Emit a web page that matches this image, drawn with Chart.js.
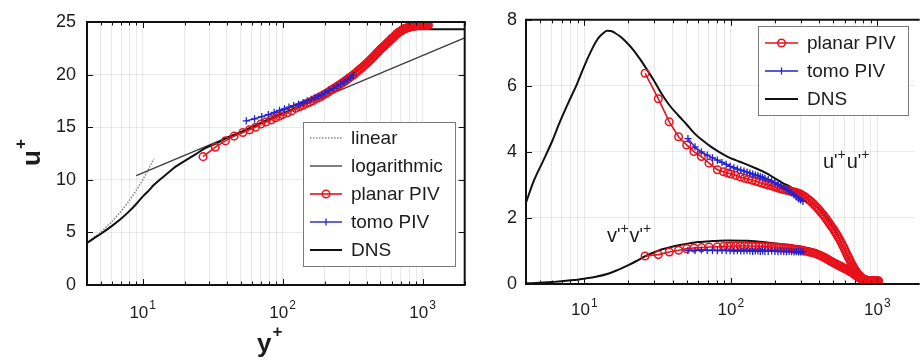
<!DOCTYPE html>
<html><head><meta charset="utf-8">
<script src="https://cdn.jsdelivr.net/npm/chart.js@4.4.0/dist/chart.umd.min.js"></script>
<style>
html,body{margin:0;padding:0;background:#fff;}
body{width:920px;height:361px;position:relative;overflow:hidden;}
#c1{position:absolute;left:0;top:0;width:470px;height:361px;}
#c2{position:absolute;left:470px;top:0;width:450px;height:361px;}
</style></head><body>
<canvas id="c1" width="470" height="361"></canvas>
<canvas id="c2" width="450" height="361"></canvas>
<script>
// ---------- tick data ----------
const xGridTicks = [4,5,6,7,8,9,10,20,30,40,50,60,70,80,90,100,200,300,400,500,600,700,800,900,1000,2000];
const xMajorTicks = [10,100,1000];
const xTickBase = ['10','10','10'];
const xTickExp = ['1','2','3'];

// ---------- left panel: mean velocity ----------
const linearY = [4,5,6,7,8,9,10,11,12];
const linearU = [4,5,6,7,8,9,10,11,12];
const logY = [9,2000];
const logU = [10.4,23.5];
const dnsMeanY = [4,4.5,5,6,7,8,9,10,11,12,13.5,15,17,20,24,28,34,40,50,60,75,100,125,150,175,200,250,300,350,400,450,500,550,600,650,700,750,800,850,2000];
const dnsMeanU = [4.0,4.45,4.85,5.6,6.3,7.0,7.7,8.4,8.95,9.5,10.1,10.6,11.2,11.8,12.45,13.0,13.5,14.0,14.5,15.0,15.6,16.3,16.85,17.3,17.75,18.2,19.0,19.8,20.5,21.2,21.8,22.4,22.9,23.4,23.75,24.0,24.15,24.25,24.3,24.3];
const planarMeanY = [27,33,39,45,52,58,64,70,76,83,89,95,
  100,108,116,124,132,140,148,156,164,172,180,188,196,204,212,220,228,236,244,252,260,268,276,284,292,300,
  310,320,330,340,350,360,370,380,390,400,410,420,430,440,450,460,470,480,490,500,
  510,520,530,540,550,560,570,580,590,600,610,620,630,640,650,660,670,680,690,700,
  710,720,730,740,750,760,770,780,790,800,810,820,830,840,850,860,870,880,890,900,
  910,920,930,940,950,960,970,980,990,1000,1010,1020,1030,1040,1050,1060,1070,1080,1090,1100];
const planarMeanU = [12.2,13.1,13.7,14.15,14.5,14.75,15.0,15.3,15.5,15.7,15.9,16.05,
  16.2,16.37,16.55,16.8,16.95,17.08,17.25,17.38,17.52,17.68,17.8,17.92,18.07,18.21,18.34,18.5,18.62,18.74,18.86,18.98,19.1,19.22,19.34,19.46,19.58,19.7,
  19.83,19.97,20.1,20.27,20.42,20.55,20.68,20.82,20.95,21.08,21.22,21.35,21.48,21.62,21.75,21.88,22.02,22.15,22.28,22.4,
  22.5,22.6,22.7,22.8,22.9,23.0,23.1,23.2,23.3,23.4,23.48,23.55,23.65,23.75,23.83,23.9,23.98,24.05,24.1,24.15,
  24.2,24.25,24.3,24.35,24.38,24.4,24.43,24.45,24.48,24.5,24.52,24.55,24.57,24.6,24.6,24.6,24.62,24.65,24.65,24.65,
  24.67,24.68,24.7,24.7,24.7,24.7,24.7,24.7,24.7,24.7,24.7,24.7,24.7,24.7,24.7,24.7,24.7,24.7,24.7,24.7];
const tomoMeanY = [55,63,71,79,87,95,103,111,120,130,140,150,160,170,180,190,200,215,230,245,260,275,290,305,320];
const tomoMeanU = [15.6,15.8,16.0,16.2,16.4,16.6,16.75,16.9,17.05,17.2,17.35,17.5,17.65,17.8,17.95,18.1,18.25,18.5,18.7,18.9,19.1,19.3,19.5,19.7,19.95];

// ---------- right panel: Reynolds stresses ----------
const dnsUUY = [4,4.5,5.2,6,6.8,7.8,8.8,10,11.4,12.5,13.5,14.3,15.2,16.2,17.5,19.1,21.5,24.1,26.7,30,33.7,38,43.7,50,56.5,64,73,83,94.6,108,122,145,176,200,228,255,282,330,382,440,495,550,609,650,690,740,790,850,900,1000];
const dnsUU = [2.46,3.1,3.7,4.3,4.9,5.5,6.0,6.6,7.15,7.45,7.6,7.67,7.66,7.6,7.5,7.35,7.1,6.8,6.5,6.15,5.76,5.42,5.11,4.83,4.56,4.35,4.16,4.0,3.86,3.75,3.66,3.52,3.35,3.2,3.05,2.94,2.82,2.6,2.35,2.08,1.75,1.38,0.95,0.7,0.5,0.3,0.17,0.08,0.05,0.02];
const dnsVVY = [4,5,6,7,8,9,10,12,14.7,17,20,23,26,30,34,39,45,52,60,75,95,130,176,230,282,330,382,440,495,550,609,650,690,740,790,850,900,1000];
const dnsVV = [0.02,0.04,0.06,0.08,0.11,0.13,0.16,0.22,0.32,0.43,0.57,0.71,0.84,0.96,1.05,1.12,1.18,1.23,1.27,1.3,1.32,1.31,1.26,1.2,1.14,1.08,1.0,0.87,0.72,0.6,0.47,0.39,0.32,0.22,0.14,0.08,0.05,0.02];
const planarStressY = [26,32,38,44,50,56,63,71,81,89,95,
  100,108,116,124,132,140,148,156,164,172,180,188,196,204,212,220,228,236,244,252,260,268,276,284,292,300,
  310,320,330,340,350,360,370,380,390,400,410,420,430,440,450,460,470,480,490,500,
  510,520,530,540,550,560,570,580,590,600,610,620,630,640,650,660,670,680,690,700,
  710,720,730,740,750,760,770,780,790,800,810,820,830,840,850,860,870,880,890,900,
  910,920,930,940,950,960,970,980,990,1000,1010,1020];
const planarUU = [6.38,5.61,4.91,4.46,4.21,4.01,3.86,3.66,3.46,3.4,3.36,
  3.33,3.29,3.24,3.2,3.17,3.14,3.11,3.08,3.05,3.02,3.0,2.98,2.95,2.93,2.9,2.88,2.86,2.85,2.83,2.82,2.8,2.79,2.78,2.76,2.74,2.72,
  2.68,2.64,2.6,2.55,2.51,2.46,2.41,2.35,2.3,2.25,2.19,2.13,2.08,2.02,1.96,1.9,1.84,1.78,1.73,1.67,
  1.61,1.55,1.49,1.43,1.37,1.3,1.24,1.17,1.11,1.04,0.97,0.9,0.84,0.78,0.72,0.66,0.6,0.55,0.5,0.45,
  0.41,0.37,0.33,0.3,0.27,0.24,0.21,0.19,0.17,0.16,0.14,0.13,0.12,0.12,0.11,0.11,0.1,0.1,0.1,0.1,
  0.1,0.1,0.1,0.1,0.1,0.1,0.1,0.1,0.1,0.1,0.1,0.1];
const planarVV = [0.85,0.89,0.97,1.02,1.07,1.09,1.1,1.12,1.13,1.14,1.14,
  1.15,1.15,1.15,1.15,1.15,1.15,1.14,1.14,1.14,1.13,1.13,1.12,1.12,1.11,1.11,1.1,1.1,1.09,1.09,1.08,1.07,1.06,1.05,1.05,1.04,1.03,
  1.02,1.0,0.99,0.98,0.96,0.95,0.94,0.92,0.9,0.88,0.86,0.84,0.81,0.79,0.77,0.74,0.72,0.69,0.67,0.65,
  0.63,0.61,0.59,0.57,0.55,0.54,0.52,0.5,0.48,0.47,0.45,0.44,0.42,0.4,0.38,0.37,0.35,0.33,0.31,0.29,
  0.27,0.25,0.23,0.21,0.19,0.18,0.16,0.15,0.13,0.12,0.11,0.1,0.1,0.09,0.09,0.08,0.08,0.07,0.07,0.07,
  0.07,0.06,0.06,0.06,0.06,0.06,0.06,0.06,0.06,0.06,0.06,0.06];
const tomoStressY = [51,57,63,69,75,81,87,93,99,105,111,117,123,129,135,141,147,153,159,165,171,180,190,200,210,220,230,240,250,260,270,280,290,300,311];
const tomoUU = [4.4,4.15,4.0,3.9,3.82,3.75,3.68,3.62,3.56,3.52,3.48,3.45,3.42,3.39,3.36,3.33,3.3,3.28,3.25,3.23,3.2,3.16,3.12,3.07,3.02,2.97,2.92,2.87,2.82,2.76,2.7,2.64,2.58,2.54,2.5];
const tomoVV = [1.02,1.02,1.03,1.02,1.02,1.01,1.02,1.01,1.01,1.0,1.01,1.0,1.0,1.01,1.0,0.99,1.0,1.0,0.99,1.0,0.99,0.99,1.0,0.99,0.98,0.99,0.98,0.98,0.99,0.98,0.97,0.98,0.97,0.97,0.97];

// ---------- styles ----------
const FONT = '"Liberation Sans", Arial, Helvetica, sans-serif';
const RED = '#e8121c', BLUE = '#2222d0', BLACK = '#111111', LOGC = '#3c3c3c', LINC = '#8c8c8c';
const GRID = 'rgba(0,0,0,0.085)';
const TXT = '#1c1c1c';

function pairs(xs, ys){ return xs.map((x,i)=>({x:x, y:ys[i]})); }

const styles = {
  linear: {borderColor:LINC, borderWidth:1.6, borderDash:[1.5,1.5], pointRadius:0},
  log: {borderColor:LOGC, borderWidth:1.3, pointRadius:0},
  dns: {borderColor:BLACK, borderWidth:2, pointRadius:0, cubicInterpolationMode:'monotone'},
  planar: {borderColor:RED, borderWidth:1.6, pointStyle:'circle', pointRadius:3.8, pointBorderWidth:1.5, pointBorderColor:RED, pointBackgroundColor:'rgba(255,255,255,0)'},
  tomo: {borderColor:BLUE, borderWidth:1.4, pointStyle:'cross', pointRadius:3.6, pointBorderWidth:1.3, pointBorderColor:BLUE}
};

function ds(label, xs, ys, st, order){
  return Object.assign({label:label, data:pairs(xs,ys), order:order, tension:0, fill:false, pointHoverRadius:0}, st);
}

function xAxis(min, max, h){
  return {
    type:'logarithmic', min:min, max:max,
    afterBuildTicks: s => { s.ticks = xGridTicks.filter(v=>v>=min && v<=max).map(v=>({value:v})); },
    ticks:{display:false},
    grid:{color:GRID, drawTicks:false, lineWidth:1},
    border:{display:false},
    afterFit: s => { s.height = h; }
  };
}
function yAxis(min, max, step, w, pad){
  return {
    type:'linear', min:min, max:max,
    ticks:{stepSize:step, color:TXT, padding:pad, font:{family:FONT, size:18}},
    grid:{color:GRID, drawTicks:false, lineWidth:1},
    border:{display:false},
    afterFit: s => { s.width = w; }
  };
}

function drawLegend(ctx, box, items){
  ctx.save();
  ctx.fillStyle='#fff';
  ctx.fillRect(box.x, box.y, box.w, box.h);
  ctx.strokeStyle='#7a7a7a'; ctx.lineWidth=1; ctx.setLineDash([]);
  ctx.strokeRect(box.x+0.5, box.y+0.5, box.w, box.h);
  items.forEach((it,i)=>{
    const cy = box.firstY + i*box.step;
    const st = it.style;
    ctx.save();
    ctx.strokeStyle = st.borderColor; ctx.lineWidth = st.borderWidth;
    ctx.setLineDash(st.borderDash || []);
    ctx.beginPath(); ctx.moveTo(box.lx0, cy); ctx.lineTo(box.lx1, cy); ctx.stroke();
    ctx.setLineDash([]);
    const mx = (box.lx0+box.lx1)/2;
    if (st.pointStyle==='circle'){
      ctx.lineWidth = st.pointBorderWidth; ctx.strokeStyle = st.pointBorderColor;
      ctx.beginPath(); ctx.arc(mx, cy, st.pointRadius, 0, Math.PI*2); ctx.stroke();
    } else if (st.pointStyle==='cross'){
      ctx.lineWidth = st.pointBorderWidth; ctx.strokeStyle = st.pointBorderColor;
      ctx.beginPath(); ctx.moveTo(mx, cy-st.pointRadius); ctx.lineTo(mx, cy+st.pointRadius); ctx.stroke();
    }
    ctx.restore();
    ctx.fillStyle = TXT; ctx.font = '19px '+FONT; ctx.textBaseline='middle'; ctx.textAlign='left';
    ctx.fillText(it.label, box.tx, cy+1);
  });
  ctx.restore();
}

function drawSup(ctx, x, y, base, sup, fBase, fSup, raise){
  ctx.font = fBase; ctx.fillText(base, x, y);
  const w = ctx.measureText(base).width;
  ctx.font = fSup; ctx.fillText(sup, x+w+1, y-raise);
}

const framePlugin = {
  id:'frame',
  afterDraw(chart, args, opts){
    const ctx = chart.ctx, a = chart.chartArea, x = chart.scales.x, y = chart.scales.y;
    ctx.save();
    ctx.strokeStyle = '#111'; ctx.lineWidth = 1;
    xGridTicks.forEach(v=>{
      if (v < x.min || v > x.max) return;
      const px = Math.round(x.getPixelForValue(v)) + 0.5;
      const L = xMajorTicks.includes(v) ? 6 : 3.5;
      ctx.beginPath();
      ctx.moveTo(px, a.bottom); ctx.lineTo(px, a.bottom - L);
      ctx.moveTo(px, a.top); ctx.lineTo(px, a.top + L);
      ctx.stroke();
    });
    y.ticks.forEach(t=>{
      const py = Math.round(y.getPixelForValue(t.value)) + 0.5;
      ctx.beginPath(); ctx.moveTo(a.left, py); ctx.lineTo(a.left + 6, py);
      if (opts.right){ ctx.moveTo(a.right, py); ctx.lineTo(a.right - 6, py); }
      ctx.stroke();
    });
    ctx.lineWidth = 2; ctx.strokeStyle = '#111';
    ctx.beginPath();
    if (opts.right){
      ctx.rect(a.left, a.top, a.right - a.left, a.bottom - a.top);
    } else {
      ctx.moveTo(a.right + 5, a.top); ctx.lineTo(a.left, a.top); ctx.lineTo(a.left, a.bottom); ctx.lineTo(a.right + 5, a.bottom);
    }
    ctx.stroke();
    ctx.fillStyle = TXT; ctx.textAlign = 'left'; ctx.textBaseline = 'alphabetic';
    xMajorTicks.forEach((v,i)=>{
      if (v < x.min || v > x.max) return;
      const px = x.getPixelForValue(v);
      ctx.font = '17px '+FONT; const wb = ctx.measureText(xTickBase[i]).width;
      ctx.font = '12px '+FONT; const we = ctx.measureText(xTickExp[i]).width;
      const x0 = px - (wb + 1 + we)/2;
      drawSup(ctx, x0, opts.labelY, xTickBase[i], xTickExp[i], '17px '+FONT, '12px '+FONT, opts.expRaise);
    });
    ctx.fillStyle = TXT;
    drawSup(ctx, opts.xtX, opts.xtY, 'y', '+', 'bold 26px '+FONT, 'bold 17px '+FONT, 15);
    if (opts.ytitle){
      ctx.save();
      ctx.translate(opts.ytitle.x, opts.ytitle.y); ctx.rotate(-Math.PI/2);
      ctx.fillStyle = TXT;
      drawSup(ctx, 0, 0, 'u', '+', 'bold 26px '+FONT, 'bold 17px '+FONT, 14);
      ctx.restore();
    }
    if (opts.legend) drawLegend(ctx, opts.legend.box, opts.legend.items);
    if (opts.notes){
      opts.notes.forEach(n=>{
        ctx.fillStyle = TXT; ctx.textAlign='left'; ctx.textBaseline='alphabetic';
        let cx = n.x;
        for (let k=0;k<2;k++){
          ctx.font = '20px '+FONT; ctx.fillText(n.letter, cx, n.y); cx += ctx.measureText(n.letter).width;
          ctx.font = '18px '+FONT; ctx.fillText("'", cx, n.y-1); cx += ctx.measureText("'").width;
          ctx.font = '14px '+FONT; ctx.fillText('+', cx, n.y-9); cx += ctx.measureText('+').width + 1;
        }
      });
    }
    ctx.restore();
  }
};

const common = {
  responsive:false, animation:false, devicePixelRatio:1,
  events:[],
  plugins:{legend:{display:false}, tooltip:{enabled:false}}
};

new Chart(document.getElementById('c1'), {
  type:'line',
  data:{datasets:[
    ds('linear', linearY, linearU, styles.linear, 4),
    ds('logarithmic', logY, logU, styles.log, 3),
    ds('DNS', dnsMeanY, dnsMeanU, styles.dns, 2),
    ds('planar PIV', planarMeanY, planarMeanU, styles.planar, 1),
    ds('tomo PIV', tomoMeanY, tomoMeanU, styles.tomo, 0)
  ]},
  options: Object.assign({}, common, {
    layout:{padding:{top:22, right:5, left:0, bottom:0}},
    scales:{ x: xAxis(4, 2000, 76), y: yAxis(0, 25, 5, 87, 11) },
    plugins:Object.assign({}, common.plugins, {frame:{
      right:true, labelY:318, expRaise:9, xtX:257, xtY:352,
      ytitle:{x:40, y:166},
      legend:{
        box:{x:303, y:122, w:152, h:144, firstY:138, step:28, lx0:310, lx1:342, tx:351},
        items:[
          {label:'linear', style:styles.linear},
          {label:'logarithmic', style:styles.log},
          {label:'planar PIV', style:styles.planar},
          {label:'tomo PIV', style:styles.tomo},
          {label:'DNS', style:styles.dns}
        ]
      }
    }})
  }),
  plugins:[framePlugin]
});

new Chart(document.getElementById('c2'), {
  type:'line',
  data:{datasets:[
    ds('DNS', dnsUUY, dnsUU, styles.dns, 2),
    ds('DNS v', dnsVVY, dnsVV, styles.dns, 2),
    ds('planar PIV', planarStressY, planarUU, styles.planar, 1),
    ds('planar PIV v', planarStressY, planarVV, styles.planar, 1),
    ds('tomo PIV', tomoStressY, tomoUU, styles.tomo, 0),
    ds('tomo PIV v', tomoStressY, tomoVV, styles.tomo, 0)
  ]},
  options: Object.assign({}, common, {
    layout:{padding:{top:17, right:0, left:0, bottom:0}},
    scales:{ x: xAxis(4, 1800, 77), y: yAxis(0, 8, 2, 56, 9) },
    plugins:Object.assign({}, common.plugins, {frame:{
      right:false, labelY:315, expRaise:8, xtX:712, xtY:352,
      legend:{
        box:{x:288, y:26, w:150, h:89, firstY:43, step:28, lx0:295, lx1:328, tx:337},
        items:[
          {label:'planar PIV', style:styles.planar},
          {label:'tomo PIV', style:styles.tomo},
          {label:'DNS', style:styles.dns}
        ]
      },
      notes:[{letter:'u', x:353, y:168}, {letter:'v', x:137, y:242}]
    }})
  }),
  plugins:[framePlugin]
});
</script>
</body></html>
